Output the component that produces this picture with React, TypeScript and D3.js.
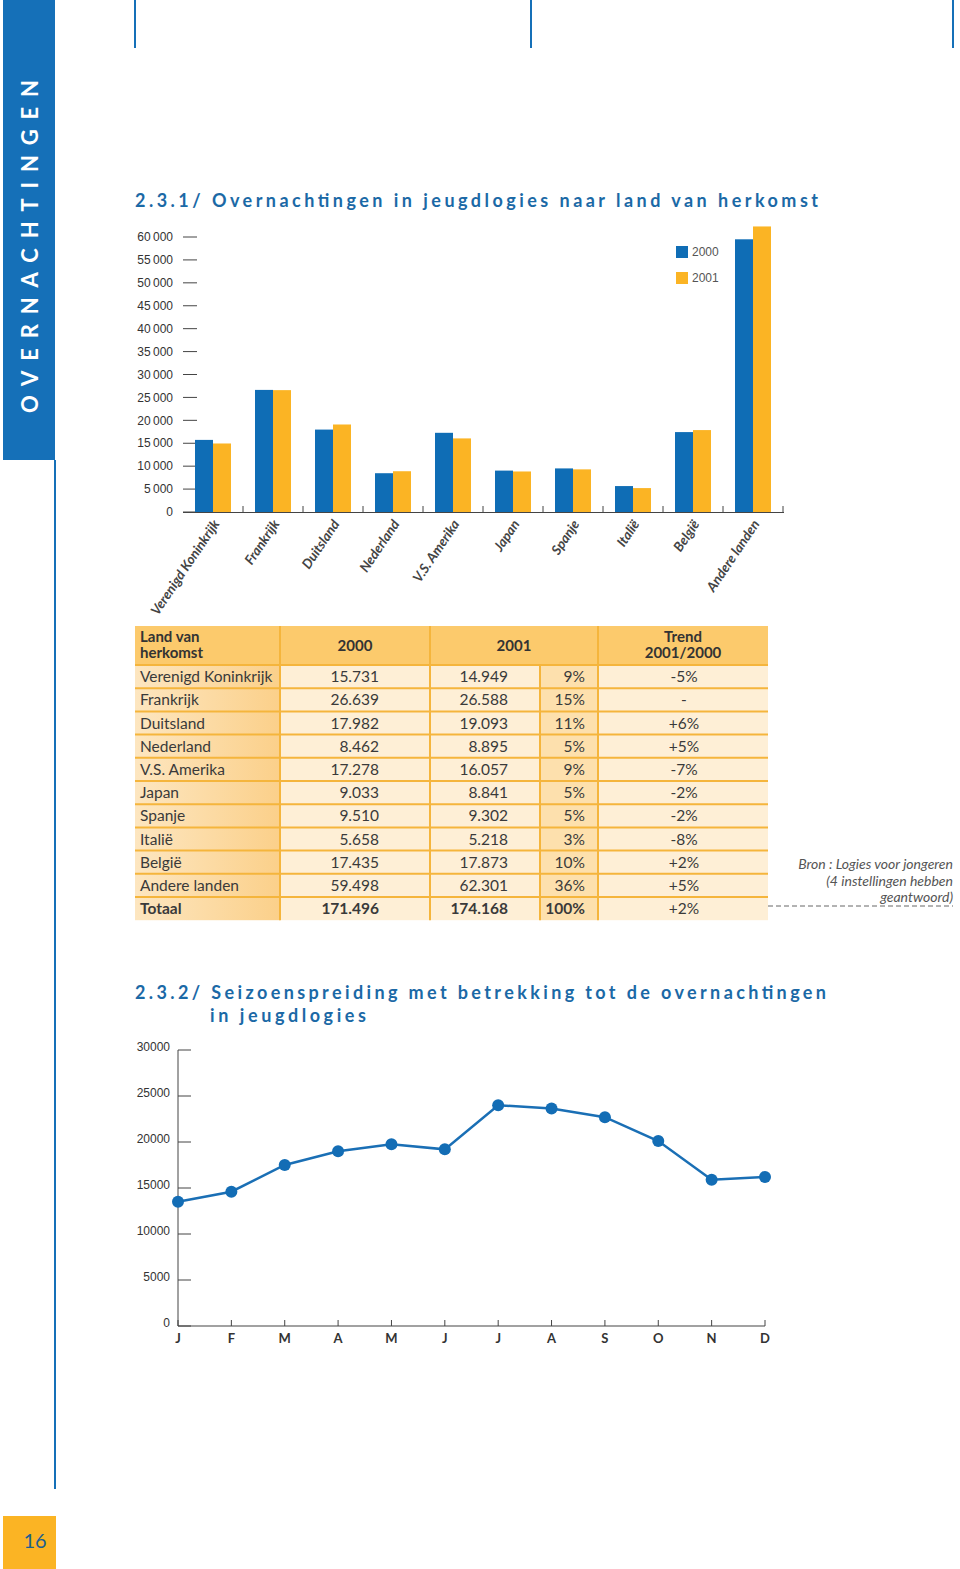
import React from "react";
import * as d3 from "d3";

const countries = ["Verenigd Koninkrijk", "Frankrijk", "Duitsland", "Nederland", "V.S. Amerika", "Japan", "Spanje", "Italië", "België", "Andere landen"];
const years = ["2000", "2001"];
const values2000 = [15731, 26639, 17982, 8462, 17278, 9033, 9510, 5658, 17435, 59498];
const values2001 = [14949, 26588, 19093, 8895, 16057, 8841, 9302, 5218, 17873, 62301];
const barTicks = [0, 5000, 10000, 15000, 20000, 25000, 30000, 35000, 40000, 45000, 50000, 55000, 60000];

const tableHeader = ["Land van herkomst", "2000", "2001", "Trend 2001/2000"];
const col2000 = ["15.731", "26.639", "17.982", "8.462", "17.278", "9.033", "9.510", "5.658", "17.435", "59.498", "171.496"];
const col2001 = ["14.949", "26.588", "19.093", "8.895", "16.057", "8.841", "9.302", "5.218", "17.873", "62.301", "174.168"];
const colShare = ["9%", "15%", "11%", "5%", "9%", "5%", "5%", "3%", "10%", "36%", "100%"];
const colTrend = ["-5%", "-", "+6%", "+5%", "-7%", "-2%", "-2%", "-8%", "+2%", "+5%", "+2%"];
const rowLabels = [...countries, "Totaal"];

const months = ["J", "F", "M", "A", "M", "J", "J", "A", "S", "O", "N", "D"];
const monthlyValues = [13500, 14600, 17500, 19000, 19750, 19200, 24000, 23650, 22700, 20100, 15900, 16200];
const lineTicks = [0, 5000, 10000, 15000, 20000, 25000, 30000];

const BLUE = "#0f6db5";
const ORANGE = "#fbb424";
const TITLE_BLUE = "#1b69a6";
const LINE_ORANGE = "#f5b53c";
const HUMAN = "Lato, 'Open Sans', sans-serif";
const AXISF = "'Liberation Sans', Arial, sans-serif";

export default function App() {
  // Bar chart scales
  const x0 = d3.scaleBand<string>().domain(countries).range([183, 783]).paddingInner(0.4).paddingOuter(0.2);
  const x1 = d3.scaleBand<string>().domain(years).range([0, x0.bandwidth()]);
  const yBar = d3.scaleLinear().domain([0, 60000]).range([512, 237]);
  const fmt = (v: number) => (v === 0 ? "0" : d3.format(",")(v).replace(/,/g, "\u2009"));
  const series = [values2000, values2001];
  const colors = [BLUE, ORANGE];

  // Table geometry
  const colEdges = [135, 280, 430, 540, 598, 768];
  const headerTop = 626;
  const headerBottom = 665;
  const rowH = 23.2;
  const rowY = d3.range(rowLabels.length + 1).map((i) => headerBottom + i * rowH);

  // Line chart scales
  const xLine = d3.scalePoint<number>().domain(d3.range(months.length)).range([178, 765]);
  const yLine = d3.scaleLinear().domain([0, 30000]).range([1326, 1050]);
  const linePath = d3
    .line<number>()
    .x((_, i) => xLine(i) as number)
    .y((d) => yLine(d))(monthlyValues) as string;

  const boundaries = countries.map((c) => (x0(c) as number) - x0.step() * 0.2).slice(1).concat([783]);

  return (
    <div style={{ position: "absolute", left: 0, top: 0 }}>
      <svg width={960} height={1569} style={{ display: "block", background: "#fff" }}>
        <defs>
          <linearGradient id="c1grad" x1="0" x2="1" y1="0" y2="0">
            <stop offset="0" stopColor="#fde6c0" />
            <stop offset="1" stopColor="#fbd08a" />
          </linearGradient>
        </defs>

        {/* Sidebar */}
        <rect x={3} y={0} width={52} height={460} fill="#1570b8" />
        <line x1={55} y1={460} x2={55} y2={1489} stroke="#1570b8" strokeWidth={2} />
        <text
          transform="translate(38,413) rotate(-90)"
          fill="#fff"
          fontFamily={HUMAN}
          fontSize={22}
          fontWeight={700}
          textLength={333}
          lengthAdjust="spacing"
        >
          OVERNACHTINGEN
        </text>
        <rect x={3} y={1516} width={53} height={53} fill={ORANGE} />
        <text x={35} y={1548} textAnchor="middle" fill="#1e5f8e" fontFamily={HUMAN} fontSize={20}>
          16
        </text>

        {/* Top marker lines */}
        {[135, 531, 953].map((x) => (
          <line key={x} x1={x} y1={0} x2={x} y2={48} stroke="#1570b8" strokeWidth={2} />
        ))}

        {/* Title 1 */}
        <text x={135} y={207} fill={TITLE_BLUE} fontFamily={HUMAN} fontSize={18} fontWeight={700} textLength={683} lengthAdjust="spacing">
          2.3.1/ Overnachtingen in jeugdlogies naar land van herkomst
        </text>

        {/* Bar chart y axis ticks */}
        {barTicks.map((t) => (
          <g key={t}>
            <line x1={183} x2={197} y1={yBar(t)} y2={yBar(t)} stroke="#444" strokeWidth={1} />
            <text x={173} y={yBar(t)} dy="0.35em" textAnchor="end" fontFamily={AXISF} fontSize={12} fill="#333">
              {fmt(t)}
            </text>
          </g>
        ))}

        {/* Bars */}
        {countries.map((c, i) => (
          <g key={c} transform={`translate(${x0(c)},0)`}>
            {years.map((yr, j) => (
              <rect
                key={yr}
                x={x1(yr)}
                y={yBar(series[j][i])}
                width={x1.bandwidth()}
                height={yBar(0) - yBar(series[j][i])}
                fill={colors[j]}
              />
            ))}
          </g>
        ))}
        <line x1={183} x2={784} y1={yBar(0) + 0.5} y2={yBar(0) + 0.5} stroke="#444" strokeWidth={1.2} />
        {boundaries.map((b, i) => (
          <line key={i} x1={b} x2={b} y1={yBar(0) - 6} y2={yBar(0)} stroke="#444" strokeWidth={1} />
        ))}

        {/* X labels */}
        {countries.map((c) => {
          const cx = (x0(c) as number) + x0.bandwidth() / 2 + 7;
          return (
            <text
              key={c}
              transform={`translate(${cx},${yBar(0) + 12}) rotate(-56)`}
              textAnchor="end"
              fontFamily={HUMAN}
              fontStyle="italic"
              fontWeight={700}
              fontSize={13.5}
              fill="#444"
            >
              {c}
            </text>
          );
        })}

        {/* Legend */}
        {years.map((yr, j) => (
          <g key={yr} transform={`translate(676,${246 + j * 26})`}>
            <rect width={12} height={12} fill={colors[j]} />
            <text x={16} y={6} dy="0.35em" fontFamily={AXISF} fontSize={12} fill="#555">
              {yr}
            </text>
          </g>
        ))}

        {/* Table */}
        <rect x={colEdges[0]} y={headerTop} width={colEdges[5] - colEdges[0]} height={headerBottom - headerTop} fill="#fcca6c" />
        {rowLabels.map((r, i) => (
          <g key={r}>
            <rect x={colEdges[0]} y={rowY[i]} width={colEdges[1] - colEdges[0]} height={rowH} fill="url(#c1grad)" />
            <rect x={colEdges[1]} y={rowY[i]} width={colEdges[3] - colEdges[1]} height={rowH} fill="#feefd6" />
            <rect x={colEdges[3]} y={rowY[i]} width={colEdges[4] - colEdges[3]} height={rowH} fill="#fde0ad" />
            <rect x={colEdges[4]} y={rowY[i]} width={colEdges[5] - colEdges[4]} height={rowH} fill="#feefd6" />
          </g>
        ))}
        {rowY.slice(0, -1).map((y, i) => (
          <line key={i} x1={colEdges[0]} x2={colEdges[5]} y1={y} y2={y} stroke={LINE_ORANGE} strokeWidth={2} />
        ))}
        {[1, 2, 4].map((k) => (
          <line key={k} x1={colEdges[k]} x2={colEdges[k]} y1={headerTop} y2={rowY[rowY.length - 1]} stroke={LINE_ORANGE} strokeWidth={2} />
        ))}
        <line x1={colEdges[3]} x2={colEdges[3]} y1={headerBottom} y2={rowY[rowY.length - 1]} stroke={LINE_ORANGE} strokeWidth={2} />

        {/* Header text */}
        <g fontFamily={HUMAN} fontWeight={700} fontSize={15} fill="#333">
          <text x={140} y={642}>Land van</text>
          <text x={140} y={658}>herkomst</text>
          <text x={(colEdges[1] + colEdges[2]) / 2} y={651} textAnchor="middle">
            {tableHeader[1]}
          </text>
          <text x={(colEdges[2] + colEdges[4]) / 2} y={651} textAnchor="middle">
            {tableHeader[2]}
          </text>
          <text x={(colEdges[4] + colEdges[5]) / 2} y={642} textAnchor="middle">
            Trend
          </text>
          <text x={(colEdges[4] + colEdges[5]) / 2} y={658} textAnchor="middle">
            2001/2000
          </text>
        </g>

        {/* Rows text */}
        {rowLabels.map((r, i) => {
          const bold = i === rowLabels.length - 1;
          const ty = rowY[i] + rowH / 2 + 5.5;
          return (
            <g key={r} fontFamily={HUMAN} fontSize={15.5} fill="#3a3a3a" fontWeight={bold ? 700 : 400}>
              <text x={140} y={ty}>{r}</text>
              <text x={379} y={ty} textAnchor="end">{col2000[i]}</text>
              <text x={508} y={ty} textAnchor="end">{col2001[i]}</text>
              <text x={585} y={ty} textAnchor="end">{colShare[i]}</text>
              <text x={684} y={ty} textAnchor="middle" fontWeight={400}>{colTrend[i]}</text>
            </g>
          );
        })}

        {/* Source note */}
        <g fontFamily={HUMAN} fontStyle="italic" fontSize={14} fill="#555" textAnchor="end">
          <text x={953} y={869}>Bron : Logies voor jongeren</text>
          <text x={953} y={886}>(4 instellingen hebben</text>
          <text x={953} y={902}>geantwoord)</text>
        </g>
        <line x1={768} x2={953} y1={906} y2={906} stroke="#666" strokeWidth={1} strokeDasharray="5,3" />

        {/* Title 2 */}
        <text x={135} y={999} fill={TITLE_BLUE} fontFamily={HUMAN} fontSize={18} fontWeight={700} textLength={691} lengthAdjust="spacing">
          2.3.2/ Seizoenspreiding met betrekking tot de overnachtingen
        </text>
        <text x={210} y={1022} fill={TITLE_BLUE} fontFamily={HUMAN} fontSize={18} fontWeight={700} textLength={156} lengthAdjust="spacing">
          in jeugdlogies
        </text>

        {/* Line chart axes */}
        <line x1={178} x2={178} y1={yLine(30000)} y2={yLine(0)} stroke="#444" strokeWidth={1} />
        <line x1={178} x2={765} y1={yLine(0)} y2={yLine(0)} stroke="#444" strokeWidth={1.2} />
        {lineTicks.map((t) => (
          <g key={t}>
            <line x1={178} x2={191} y1={yLine(t)} y2={yLine(t)} stroke="#444" strokeWidth={1} />
            <text x={170} y={yLine(t)} dy="0.1em" textAnchor="end" fontFamily={AXISF} fontSize={12} fill="#333">
              {t}
            </text>
          </g>
        ))}
        {months.map((m, i) => (
          <g key={i}>
            <line x1={xLine(i)} x2={xLine(i)} y1={yLine(0) - 6} y2={yLine(0)} stroke="#444" strokeWidth={1} />
            <text x={xLine(i)} y={yLine(0) + 17} textAnchor="middle" fontFamily={HUMAN} fontWeight={700} fontSize={13} fill="#333">
              {m}
            </text>
          </g>
        ))}

        {/* Line */}
        <path d={linePath} fill="none" stroke="#1a6fb5" strokeWidth={2.5} />
        {monthlyValues.map((v, i) => (
          <circle key={i} cx={xLine(i)} cy={yLine(v)} r={6} fill="#136db5" />
        ))}
      </svg>
    </div>
  );
}
